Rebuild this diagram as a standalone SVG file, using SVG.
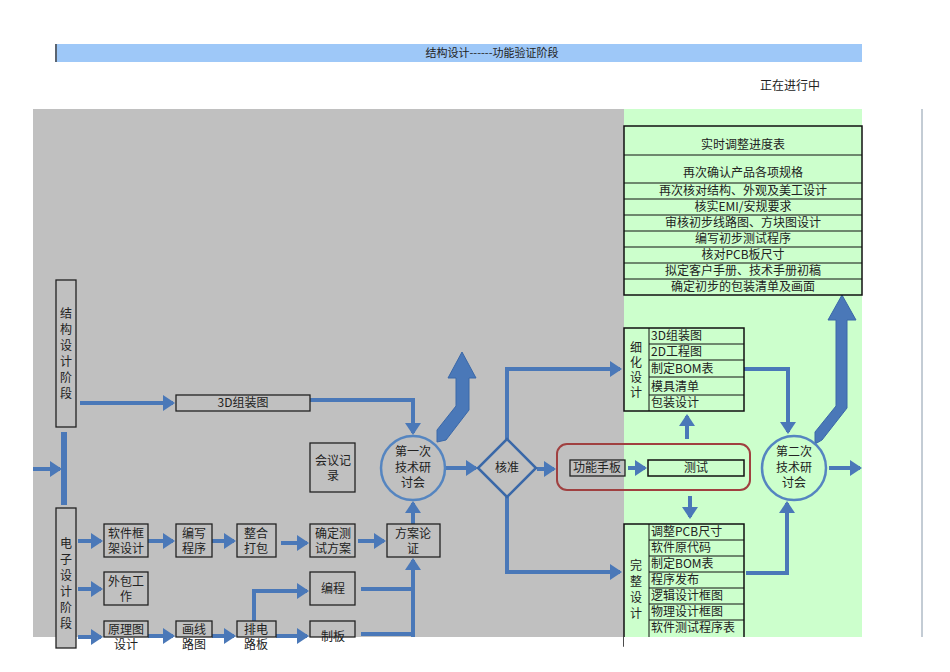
<svg xmlns="http://www.w3.org/2000/svg" width="950" height="672" viewBox="0 0 950 672">
<defs>
<marker id="ah" markerWidth="4" markerHeight="4" refX="2.5" refY="2" orient="auto"><path d="M0,0 L3,2 L0,4 Z" fill="#4a78b8"/></marker>
<style>
text{font-family:"Noto Sans CJK SC","Liberation Sans",sans-serif;font-size:12px;fill:#222;text-anchor:middle}
text.s{text-anchor:start}
.b{fill:#c0c0c0;stroke:#222;stroke-width:1.3}
.g{fill:#ccffcc;stroke:#111;stroke-width:1.5}
.c{fill:none;stroke:#4a78b8;stroke-width:4;marker-end:url(#ah)}
.l{fill:none;stroke:#4a78b8;stroke-width:4}
.cir{fill:#c0c0c0;stroke:#5585c0;stroke-width:2.5}
.big{fill:#4a78b8;stroke:#3a68a8;stroke-width:1}
</style>
</defs>
<rect width="950" height="672" fill="#fff"/>
<rect x="55" y="44" width="807" height="18" fill="#9ec8f8"/>
<line x1="56" y1="44" x2="56" y2="62" stroke="#444" stroke-width="1.5"/>
<text x="492" y="57" style="font-size:11px">结构设计------功能验证阶段</text>
<text x="790" y="90">正在进行中</text>
<rect x="33" y="109" width="591" height="528" fill="#c0c0c0"/>
<rect x="624" y="109" width="238" height="528" fill="#ccffcc"/>
<line x1="922" y1="109" x2="922" y2="637" stroke="#8899aa" stroke-width="1"/>

<g id="connectors">
<path class="c" d="M33,469 H60"/>
<rect x="61" y="432" width="6" height="73" fill="#4a78b8"/>
<path class="c" d="M80,403 H173"/>
<path class="l" d="M310,400 H415"/>
<path class="c" d="M413,400 V433"/>
<path class="c" d="M78,541 H101"/>
<path class="c" d="M148,541 H173"/>
<path class="c" d="M212,541 H234"/>
<path class="c" d="M281,543 H307"/>
<path class="c" d="M358,541 H384"/>
<path class="c" d="M413,524 V503"/>
<path class="c" d="M78,589 H101"/>
<path class="c" d="M78,637 H101"/>
<path class="c" d="M148,636 H173"/>
<path class="c" d="M212,636 H234"/>
<path class="c" d="M276,636 H307"/>
<path class="l" d="M361,589 H413"/>
<path class="l" d="M361,634 H413"/>
<path class="c" d="M413,637 V560"/>
<path class="l" d="M254,621 V590"/>
<path class="c" d="M252,591 H307"/>
<path class="c" d="M445,468 H476"/>
<polygon class="big" points="437,442 437,430 456,406 456,378 448,378 462,352 476,378 469,378 469,410 446,440"/>
<path class="l" d="M507,439 V369"/>
<path class="c" d="M505,369 H620"/>
<path class="l" d="M507,497 V572"/>
<path class="c" d="M505,572 H620"/>
<path class="c" d="M537,469 H554"/>
<path class="c" d="M628,468 H645"/>
<path class="c" d="M687,439 V416"/>
<path class="c" d="M690,496 V517"/>
<path class="l" d="M744,369 H788"/>
<path class="c" d="M788,367 V432"/>
<path class="l" d="M746,573 H787"/>
<path class="c" d="M787,575 V503"/>
<path class="c" d="M829,468 H860"/>
<polygon class="big" points="815,444 815,432 836,406 836,320 828,320 842,295 856,320 847,320 847,408 822,440"/>
</g>

<g id="n-struct"><rect class="b" x="56" y="280" width="20" height="147"/><text x="66" y="318">结</text><text x="66" y="334">构</text><text x="66" y="350">设</text><text x="66" y="366">计</text><text x="66" y="382">阶</text><text x="66" y="398">段</text></g>
<g id="n-elec"><rect class="b" x="56" y="508" width="20" height="140"/><text x="66" y="548">电</text><text x="66" y="564">子</text><text x="66" y="580">设</text><text x="66" y="596">计</text><text x="66" y="612">阶</text><text x="66" y="628">段</text></g>
<g id="n-3d"><rect class="b" x="176" y="395" width="134" height="16"/><text x="243" y="407">3D组装图</text></g>
<g id="n-meet"><rect class="b" x="310" y="443" width="45" height="49"/><text x="333" y="465">会议记</text><text x="333" y="480">录</text></g>
<g id="n-c1"><circle class="cir" cx="413" cy="468" r="32"/><text x="413" y="456">第一次</text><text x="413" y="472">技术研</text><text x="413" y="487">讨会</text></g>
<g id="n-sw"><rect class="b" x="104" y="524" width="44" height="33"/><text x="126" y="538">软件框</text><text x="126" y="553">架设计</text></g>
<g id="n-write"><rect class="b" x="176" y="524" width="36" height="33"/><text x="194" y="538">编写</text><text x="194" y="553">程序</text></g>
<g id="n-pack"><rect class="b" x="237" y="524" width="39" height="33"/><text x="256" y="538">整合</text><text x="256" y="553">打包</text></g>
<g id="n-test"><rect class="b" x="310" y="524" width="45" height="33"/><text x="333" y="538">确定测</text><text x="333" y="553">试方案</text></g>
<g id="n-plan"><rect class="b" x="387" y="524" width="53" height="33"/><text x="413" y="538">方案论</text><text x="413" y="553">证</text></g>
<g id="n-out"><rect class="b" x="104" y="572" width="44" height="33"/><text x="126" y="586">外包工</text><text x="126" y="601">作</text></g>
<g id="n-prog"><rect class="b" x="310" y="572" width="45" height="33"/><text x="333" y="593">编程</text></g>
<g id="n-sch"><rect class="b" x="104" y="621" width="44" height="16"/><text x="126" y="634">原理图</text><text x="126" y="649">设计</text></g>
<g id="n-draw"><rect class="b" x="176" y="621" width="36" height="16"/><text x="194" y="634">画线</text><text x="194" y="649">路图</text></g>
<g id="n-pcb"><rect class="b" x="237" y="621" width="39" height="16"/><text x="256" y="634">排电</text><text x="256" y="649">路板</text></g>
<g id="n-make"><rect class="b" x="310" y="621" width="45" height="16"/><text x="333" y="641">制板</text></g>
<g id="n-approve"><polygon points="507,439 536,468 507,497 478,468" fill="#c0c0c0" stroke="#3a68a8" stroke-width="2.5"/><text x="507" y="472">核准</text></g>
<g id="n-red"><rect x="557" y="444" width="193" height="46" rx="10" fill="none" stroke="#a04040" stroke-width="2"/></g>
<g id="n-hand"><rect class="b" x="570" y="460" width="55" height="16"/><text x="597" y="472">功能手板</text></g>
<g id="n-ceshi"><rect class="g" x="648" y="460" width="96" height="16"/><text x="696" y="472">测试</text></g>
<g id="n-detail">
<rect class="g" x="624" y="328" width="120" height="83"/><line x1="649" y1="328" x2="649" y2="411" stroke="#111"/>
<g stroke="#111"><line x1="649" y1="344" x2="744" y2="344"/><line x1="649" y1="360" x2="744" y2="360"/><line x1="649" y1="377" x2="744" y2="377"/><line x1="649" y1="395" x2="744" y2="395"/></g>
<text x="636" y="352">细</text><text x="636" y="367">化</text><text x="636" y="382">设</text><text x="636" y="397">计</text>
<text class="s" x="651" y="340">3D组装图</text><text class="s" x="651" y="356">2D工程图</text><text class="s" x="651" y="373">制定BOM表</text><text class="s" x="651" y="391">模具清单</text><text class="s" x="651" y="407">包装设计</text>
</g>
<g id="n-full">
<rect class="g" x="624" y="524" width="120" height="122"/><line x1="649" y1="524" x2="649" y2="646" stroke="#111"/>
<g stroke="#111"><line x1="649" y1="540" x2="744" y2="540"/><line x1="649" y1="556" x2="744" y2="556"/><line x1="649" y1="572" x2="744" y2="572"/><line x1="649" y1="588" x2="744" y2="588"/><line x1="649" y1="604" x2="744" y2="604"/><line x1="649" y1="620" x2="744" y2="620"/></g>
<text x="636" y="570">完</text><text x="636" y="586">整</text><text x="636" y="602">设</text><text x="636" y="618">计</text>
<text class="s" x="651" y="536">调整PCB尺寸</text><text class="s" x="651" y="552">软件原代码</text><text class="s" x="651" y="568">制定BOM表</text><text class="s" x="651" y="584">程序发布</text><text class="s" x="651" y="600">逻辑设计框图</text><text class="s" x="651" y="616">物理设计框图</text><text class="s" x="651" y="632">软件测试程序表</text>
</g>
<rect x="624" y="637" width="300" height="35" fill="#fff"/>
<g id="n-c2"><circle cx="794" cy="468" r="32" fill="#ccffcc" stroke="#5585c0" stroke-width="2.5"/><text x="794" y="456">第二次</text><text x="794" y="472">技术研</text><text x="794" y="487">讨会</text></g>
<g id="n-top">
<rect class="g" x="624" y="126" width="238" height="169"/>
<g stroke="#111"><line x1="624" y1="155" x2="862" y2="155"/><line x1="624" y1="183" x2="862" y2="183"/><line x1="624" y1="199" x2="862" y2="199"/><line x1="624" y1="215" x2="862" y2="215"/><line x1="624" y1="231" x2="862" y2="231"/><line x1="624" y1="247" x2="862" y2="247"/><line x1="624" y1="263" x2="862" y2="263"/><line x1="624" y1="279" x2="862" y2="279"/></g>
<text x="743" y="149">实时调整进度表</text><text x="743" y="177">再次确认产品各项规格</text><text x="743" y="195">再次核对结构、外观及美工设计</text><text x="743" y="211">核实EMI/安规要求</text><text x="743" y="227">审核初步线路图、方块图设计</text><text x="743" y="243">编写初步测试程序</text><text x="743" y="259">核对PCB板尺寸</text><text x="743" y="275">拟定客户手册、技术手册初稿</text><text x="743" y="291">确定初步的包装清单及画面</text>
</g>
</svg>
